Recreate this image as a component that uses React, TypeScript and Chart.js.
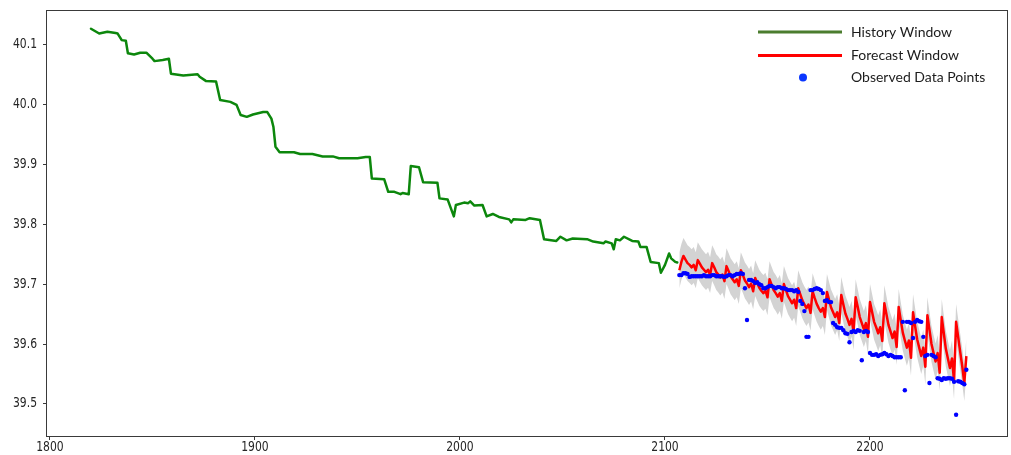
import React, { useEffect, useRef } from "react";
import { Chart, registerables } from "chart.js";

Chart.register(...registerables);

// History window: day index and level at each turning point of the series
const HISTORY_DAYS = [
  1820, 1824, 1828, 1832, 1833, 1835, 1837, 1838, 1841, 1844, 1847, 1850, 1851, 1855, 1858,
  1859, 1865, 1872, 1873, 1876, 1881, 1883, 1888, 1891, 1893, 1896, 1899, 1904, 1906, 1908,
  1909, 1910, 1912, 1919, 1922, 1928, 1933, 1938, 1941, 1950, 1954, 1956, 1957, 1963, 1965,
  1968, 1971, 1972, 1975, 1976, 1980, 1982, 1989, 1990, 1994, 1997, 1998, 2002, 2004, 2005,
  2007, 2011, 2013, 2016, 2019, 2024, 2025, 2026, 2032, 2034, 2039, 2041, 2047, 2049, 2052,
  2055, 2062, 2065, 2070, 2071, 2074, 2075, 2076, 2078, 2080, 2084, 2087, 2088, 2091, 2093,
  2097, 2098, 2100, 2102, 2103, 2105, 2106,
];
const HISTORY_VALUES = [
  40.126, 40.118, 40.121, 40.119, 40.118, 40.107, 40.106, 40.085, 40.083, 40.086, 40.086, 40.076, 40.072, 40.074, 40.076,
  40.051, 40.048, 40.05, 40.046, 40.039, 40.038, 40.007, 40.004, 39.999, 39.982, 39.979, 39.983, 39.987, 39.987, 39.976,
  39.962, 39.929, 39.92, 39.92, 39.917, 39.917, 39.913, 39.913, 39.91, 39.91, 39.912, 39.912, 39.876, 39.875, 39.854,
  39.854, 39.85, 39.852, 39.85, 39.897, 39.895, 39.87, 39.869, 39.843, 39.841, 39.813, 39.832, 39.836, 39.835, 39.838,
  39.831, 39.832, 39.813, 39.817, 39.812, 39.808, 39.803, 39.808, 39.807, 39.81, 39.807, 39.775, 39.772, 39.779, 39.773,
  39.776, 39.775, 39.771, 39.768, 39.771, 39.768, 39.758, 39.775, 39.773, 39.779, 39.772, 39.771, 39.762, 39.762, 39.737,
  39.735, 39.719, 39.732, 39.751, 39.743, 39.737, 39.736,
];

// Forecast window: one value per day starting at FORECAST_START
const FORECAST_START = 2107;
const FORECAST = [
  39.723, 39.737,
  39.747, 39.741, 39.735, 39.732, 39.728, 39.732, 39.723,
  39.74, 39.734, 39.728, 39.724, 39.72, 39.724, 39.715,
  39.735, 39.728, 39.72, 39.716, 39.711, 39.716, 39.705,
  39.73, 39.722, 39.713, 39.708, 39.703, 39.708, 39.697,
  39.723, 39.715, 39.706, 39.701, 39.695, 39.701, 39.688,
  39.71, 39.702, 39.694, 39.689, 39.685, 39.689, 39.678,
  39.708, 39.699, 39.69, 39.685, 39.679, 39.685, 39.672,
  39.7, 39.69, 39.68, 39.674, 39.668, 39.674, 39.66,
  39.693, 39.683, 39.673, 39.666, 39.66, 39.666, 39.652,
  39.688, 39.677, 39.667, 39.66, 39.654, 39.66, 39.645,
  39.687, 39.674, 39.661, 39.653, 39.645, 39.653, 39.635,
  39.682, 39.666, 39.651, 39.642, 39.632, 39.642, 39.62,
  39.678, 39.662, 39.645, 39.635, 39.625, 39.635, 39.612,
  39.67, 39.654, 39.637, 39.628, 39.618, 39.628, 39.605,
  39.668, 39.65, 39.632, 39.621, 39.61, 39.621, 39.595,
  39.662, 39.64, 39.619, 39.606, 39.594, 39.606, 39.577,
  39.653, 39.63, 39.608, 39.594, 39.58, 39.594, 39.562,
  39.648, 39.624, 39.6, 39.585, 39.571, 39.585, 39.552,
  39.645, 39.618, 39.592, 39.576, 39.56, 39.576, 39.538,
  39.637, 39.612, 39.587, 39.563, 39.535, 39.58,
];
// Half width of the prediction interval around the forecast
const INTERVAL_HALF_WIDTH = 0.03;

// Observed values over the forecast window, one per day from FORECAST_START
const OBSERVED = [
  39.715, 39.715, 39.718, 39.718, 39.717, 39.712, 39.713, 39.713, 39.713, 39.713,
  39.713, 39.713, 39.715, 39.713, 39.713, 39.713, 39.715, 39.715, 39.713, 39.713,
  39.713, 39.713, 39.712, 39.713, 39.715, 39.715, 39.713, 39.715, 39.717, 39.717,
  39.718, 39.717, 39.693, 39.64, 39.707, 39.707, 39.705, 39.702, 39.703, 39.7,
  39.698, 39.693, 39.693, 39.695, 39.697, 39.697, 39.695, 39.693, 39.695, 39.695,
  39.693, 39.693, 39.692, 39.69, 39.69, 39.69, 39.688, 39.69, 39.687, 39.672,
  39.667, 39.655, 39.612, 39.612, 39.69, 39.69, 39.692, 39.693, 39.692, 39.69,
  39.685, 39.672, 39.673, 39.67, 39.67, 39.635, 39.632, 39.628, 39.627, 39.627,
  39.623, 39.618, 39.617, 39.603, 39.62, 39.622, 39.62, 39.623, 39.622, 39.573,
  39.62, 39.622, 39.62, 39.585, 39.582, 39.582, 39.583, 39.58, 39.582, 39.583,
  39.585, 39.583, 39.58, 39.582, 39.58, 39.578, 39.578, 39.578, 39.578, 39.637,
  39.523, 39.637, 39.637, 39.635, 39.61, 39.637, 39.64, 39.638, 39.637, 39.612,
  39.58, 39.582, 39.535, 39.582, 39.58, 39.578, 39.543, 39.542, 39.54, 39.543,
  39.542, 39.543, 39.543, 39.542, 39.537, 39.482, 39.538, 39.537, 39.535, 39.533,
  39.557,
];

const X_TICKS = [1800, 1900, 2000, 2100, 2200];
const Y_TICKS = [39.5, 39.6, 39.7, 39.8, 39.9, 40.0, 40.1];
const X_RANGE = [1798.54, 2266.83];
const Y_RANGE = [39.4466, 40.1556];

const LEGEND_ITEMS = [
  { label: "History Window", kind: "line", color: "#4b7d2e" },
  { label: "Forecast Window", kind: "line", color: "#ff0000" },
  { label: "Observed Data Points", kind: "dot", color: "#0a36ff" },
];

const TICK_FONT = "'DejaVu Sans', sans-serif";
const LEGEND_FONT = "Lato, 'Open Sans', sans-serif";

const framePlugin = {
  id: "frame",
  afterDraw(chart: any) {
    const { ctx, chartArea } = chart;
    ctx.save();
    ctx.strokeStyle = "#3a3a3a";
    ctx.lineWidth = 1;
    ctx.strokeRect(
      Math.round(chartArea.left) - 0.5,
      Math.round(chartArea.top) - 0.5,
      Math.round(chartArea.right - chartArea.left) + 1,
      Math.round(chartArea.bottom - chartArea.top) + 1
    );
    ctx.restore();
  },
};

// Tick labels, set in a narrowed DejaVu Sans
const tickLabelPlugin = {
  id: "tickLabels",
  afterDraw(chart: any) {
    const { ctx, chartArea, scales } = chart;
    const squeeze = 0.8;
    ctx.save();
    ctx.font = `13.5px ${TICK_FONT}`;
    ctx.fillStyle = "#262626";
    ctx.textBaseline = "middle";
    X_TICKS.forEach((v) => {
      const px = scales.x.getPixelForValue(v);
      ctx.save();
      ctx.translate(px, chartArea.bottom + 11.5);
      ctx.scale(squeeze, 1);
      ctx.textAlign = "center";
      ctx.fillText(String(v), 0, 0);
      ctx.restore();
    });
    Y_TICKS.forEach((v) => {
      const py = scales.y.getPixelForValue(v);
      ctx.save();
      ctx.translate(chartArea.left - 10, py);
      ctx.scale(squeeze, 1);
      ctx.textAlign = "right";
      ctx.fillText(v.toFixed(1), 0, 0);
      ctx.restore();
    });
    ctx.restore();
  },
};

const legendPlugin = {
  id: "cornerLegend",
  afterDraw(chart: any) {
    const { ctx, chartArea } = chart;
    const lineStart = chartArea.right - 249;
    const lineEnd = chartArea.right - 165;
    const textX = chartArea.right - 156;
    const rows = [chartArea.top + 21, chartArea.top + 44.5, chartArea.top + 66.5];
    ctx.save();
    ctx.font = `14px ${LEGEND_FONT}`;
    ctx.textBaseline = "middle";
    ctx.textAlign = "left";
    LEGEND_ITEMS.forEach((item, i) => {
      const y = rows[i];
      if (item.kind === "line") {
        ctx.strokeStyle = item.color;
        ctx.lineWidth = 3;
        ctx.beginPath();
        ctx.moveTo(lineStart, y);
        ctx.lineTo(lineEnd, y);
        ctx.stroke();
      } else {
        ctx.fillStyle = item.color;
        ctx.beginPath();
        ctx.arc((lineStart + lineEnd) / 2 + 3, y, 4, 0, Math.PI * 2);
        ctx.fill();
      }
      ctx.fillStyle = "#1c1c1c";
      ctx.fillText(item.label, textX, y);
    });
    ctx.restore();
  },
};

export default function App() {
  const canvasRef = useRef<HTMLCanvasElement | null>(null);

  useEffect(() => {
    const canvas = canvasRef.current;
    if (!canvas) return;

    const history = HISTORY_DAYS.map((d, i) => ({ x: d, y: HISTORY_VALUES[i] }));
    const forecast = FORECAST.map((v, i) => ({ x: FORECAST_START + i, y: v }));
    const upper = FORECAST.map((v, i) => ({ x: FORECAST_START + i, y: v + INTERVAL_HALF_WIDTH }));
    const lower = FORECAST.map((v, i) => ({ x: FORECAST_START + i, y: v - INTERVAL_HALF_WIDTH }));
    const observed = OBSERVED.map((v, i) => ({ x: FORECAST_START + i, y: v }));

    const tickMarks = {
      display: true,
      drawOnChartArea: false,
      drawTicks: true,
      tickLength: 4,
      color: "#3a3a3a",
    };

    const chart = new Chart(canvas, {
      type: "line",
      data: {
        datasets: [
          {
            label: "upper",
            data: upper,
            borderWidth: 0,
            pointRadius: 0,
            borderColor: "rgba(0,0,0,0)",
            backgroundColor: "#d3d3d3",
            fill: false,
            order: 4,
          },
          {
            label: "lower",
            data: lower,
            borderWidth: 0,
            pointRadius: 0,
            borderColor: "rgba(0,0,0,0)",
            backgroundColor: "#d3d3d3",
            fill: "-1",
            order: 3,
          },
          {
            label: "History Window",
            data: history,
            borderColor: "#0c870c",
            borderWidth: 2.5,
            pointRadius: 0,
            tension: 0,
            borderCapStyle: "round",
            borderJoinStyle: "round",
            fill: false,
            order: 2,
          },
          {
            label: "Forecast Window",
            data: forecast,
            borderColor: "#ff0000",
            borderWidth: 2.5,
            pointRadius: 0,
            tension: 0,
            borderJoinStyle: "round",
            fill: false,
            order: 1,
          },
          {
            label: "Observed Data Points",
            data: observed,
            showLine: false,
            pointRadius: 2.2,
            pointBorderWidth: 0,
            pointBackgroundColor: "#0000ff",
            pointBorderColor: "#0000ff",
            fill: false,
            order: 0,
          },
        ],
      },
      options: {
        responsive: false,
        devicePixelRatio: 1,
        animation: false,
        events: [],
        layout: { padding: { left: 0, top: 11, right: 4, bottom: 0 } },
        plugins: {
          legend: { display: false },
          tooltip: { enabled: false },
          title: { display: false },
        },
        scales: {
          x: {
            type: "linear",
            min: X_RANGE[0],
            max: X_RANGE[1],
            afterBuildTicks: (scale: any) => {
              scale.ticks = X_TICKS.map((v) => ({ value: v }));
            },
            afterFit: (scale: any) => {
              scale.height = 19;
            },
            grid: tickMarks,
            border: { display: false },
            ticks: { display: false, autoSkip: false },
          },
          y: {
            type: "linear",
            min: Y_RANGE[0],
            max: Y_RANGE[1],
            afterBuildTicks: (scale: any) => {
              scale.ticks = Y_TICKS.map((v) => ({ value: v }));
            },
            afterFit: (scale: any) => {
              scale.width = 47;
            },
            grid: tickMarks,
            border: { display: false },
            ticks: { display: false, autoSkip: false },
          },
        },
      },
      plugins: [framePlugin, tickLabelPlugin, legendPlugin],
    } as any);

    return () => chart.destroy();
  }, []);

  return (
    <div style={{ position: "fixed", left: 0, top: 0, width: 1011, height: 455, background: "#ffffff" }}>
      <canvas ref={canvasRef} width={1011} height={455} style={{ display: "block" }} />
    </div>
  );
}
